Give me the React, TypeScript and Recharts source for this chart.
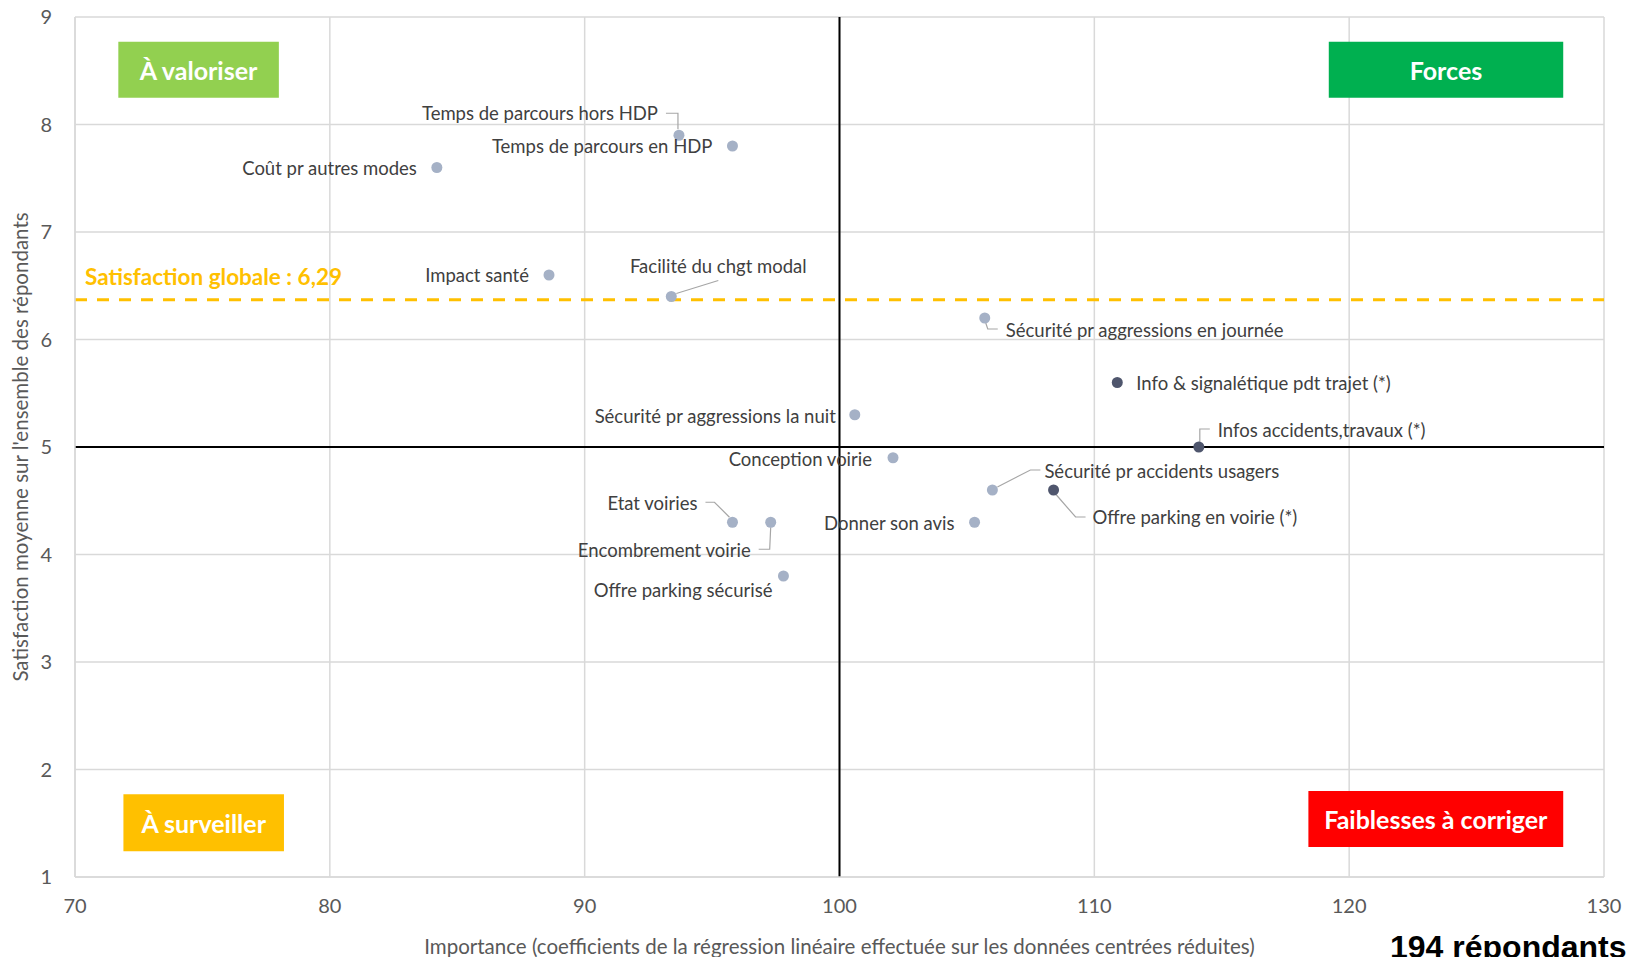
import {
  CartesianGrid,
  ReferenceArea,
  ReferenceLine,
  Scatter,
  ScatterChart,
  XAxis,
  YAxis,
} from "recharts";

const criteria = [
  "Temps de parcours hors HDP",
  "Temps de parcours en HDP",
  "Coût pr autres modes",
  "Impact santé",
  "Facilité du chgt modal",
  "Sécurité pr aggressions en journée",
  "Info & signalétique pdt trajet (*)",
  "Sécurité pr aggressions la nuit",
  "Infos accidents,travaux (*)",
  "Conception voirie",
  "Sécurité pr accidents usagers",
  "Offre parking en voirie (*)",
  "Etat voiries",
  "Encombrement voirie",
  "Donner son avis",
  "Offre parking sécurisé",
];
const importance = [93.7, 95.8, 84.2, 88.6, 93.4, 105.7, 110.9, 100.6, 114.1, 102.1, 106.0, 108.4, 95.8, 97.3, 105.3, 97.8];
const satisfaction = [7.9, 7.8, 7.6, 6.6, 6.4, 6.2, 5.6, 5.3, 5.0, 4.9, 4.6, 4.6, 4.3, 4.3, 4.3, 3.8];
const starred = [false, false, false, false, false, false, true, false, true, false, false, true, false, false, false, false];

const xTicks = [70, 80, 90, 100, 110, 120, 130];
const yTicks = [1, 2, 3, 4, 5, 6, 7, 8, 9];
const globalLine = 6.37;
const globalLabel = "Satisfaction globale : 6,29";
const xLabel = "Importance (coefficients de la régression linéaire effectuée sur les données centrées réduites)";
const yLabel = "Satisfaction moyenne sur l'ensemble des répondants";
const quadrantNames = ["À valoriser", "Forces", "À surveiller", "Faiblesses à corriger"];

// box placement, in axis units
const quadrantBoxes = [
  { x1: 71.7, x2: 78.0, y1: 8.25, y2: 8.77, fill: "#92D050" },
  { x1: 119.2, x2: 128.4, y1: 8.25, y2: 8.77, fill: "#00B050" },
  { x1: 71.9, x2: 78.2, y1: 1.24, y2: 1.77, fill: "#FFC000" },
  { x1: 118.4, x2: 128.4, y1: 1.28, y2: 1.8, fill: "#FF0000" },
];

// label offsets from the point (px), with optional leader line
type Lay = { dx: number; dy: number; anchor: "start" | "middle" | "end"; leader?: number[][] };
const labelLayout: Record<string, Lay> = {
  "Temps de parcours hors HDP": { dx: -21, dy: -22, anchor: "end", leader: [[-13, -22], [-1, -22], [-1, -6]] },
  "Temps de parcours en HDP": { dx: -20, dy: 0, anchor: "end" },
  "Coût pr autres modes": { dx: -20, dy: 0, anchor: "end" },
  "Impact santé": { dx: -20, dy: 0, anchor: "end" },
  "Facilité du chgt modal": { dx: 47, dy: -31, anchor: "middle", leader: [[5, -3], [47, -16]] },
  "Sécurité pr aggressions en journée": { dx: 21, dy: 12, anchor: "start", leader: [[1, 5], [3, 11], [13, 11]] },
  "Info & signalétique pdt trajet (*)": { dx: 19, dy: 0, anchor: "start" },
  "Sécurité pr aggressions la nuit": { dx: -19, dy: 1, anchor: "end" },
  "Infos accidents,travaux (*)": { dx: 19, dy: -17, anchor: "start", leader: [[1, -5], [1, -18], [11, -18]] },
  "Conception voirie": { dx: -21, dy: 1, anchor: "end" },
  "Sécurité pr accidents usagers": { dx: 52, dy: -19, anchor: "start", leader: [[5, -3], [38, -20], [48, -20]] },
  "Offre parking en voirie (*)": { dx: 39, dy: 27, anchor: "start", leader: [[2, 4], [22, 27], [32, 27]] },
  "Etat voiries": { dx: -35, dy: -19, anchor: "end", leader: [[-27, -20], [-18, -20], [-3, -5]] },
  "Encombrement voirie": { dx: -20, dy: 28, anchor: "end", leader: [[0, 5], [-1, 27], [-12, 27]] },
  "Donner son avis": { dx: -20, dy: 1, anchor: "end" },
  "Offre parking sécurisé": { dx: -11, dy: 14, anchor: "end" },
};

const points = criteria.map((name, i) => ({ name, x: importance[i], y: satisfaction[i], starred: starred[i] }));
const FONT = "Lato, 'Open Sans', sans-serif";

function PointShape(props: any) {
  const { cx, cy, payload, fill } = props;
  const lay = labelLayout[payload.name] || { dx: 10, dy: 0, anchor: "start" };
  return (
    <g>
      {lay.leader && (
        <polyline
          points={lay.leader.map(([a, b]) => `${cx + a},${cy + b}`).join(" ")}
          fill="none"
          stroke="#A6A6A6"
          strokeWidth={1.2}
        />
      )}
      <circle cx={cx} cy={cy} r={5.5} fill={fill} />
      <text
        x={cx + lay.dx}
        y={cy + lay.dy}
        textAnchor={lay.anchor}
        dominantBaseline="central"
        fontFamily={FONT}
        fontSize={18.5}
        fill="#404040"
      >
        {payload.name}
      </text>
    </g>
  );
}

function BoxLabel(text: string) {
  return (p: any) => {
    const vb = p.viewBox;
    return (
      <text
        x={vb.x + vb.width / 2}
        y={vb.y + vb.height / 2}
        textAnchor="middle"
        dominantBaseline="central"
        fontFamily={FONT}
        fontWeight="bold"
        fontSize={25}
        fill="#fff"
      >
        {text}
      </text>
    );
  };
}

export default function App() {
  return (
    <div style={{ position: "absolute", left: 0, top: 0, width: 1632, height: 957, overflow: "hidden", background: "#fff" }}>
      <ScatterChart width={1632} height={957} margin={{ top: 17, right: 28, bottom: 0, left: 0 }}>
        <CartesianGrid stroke="#D9D9D9" strokeWidth={1.5} />
        <XAxis
          type="number"
          dataKey="x"
          domain={[70, 130]}
          ticks={xTicks}
          height={80}
          tickLine={false}
          axisLine={{ stroke: "#D9D9D9", strokeWidth: 1.5 }}
          tickSize={6}
          tickMargin={16}
          tick={{ fontSize: 20, fill: "#595959", fontFamily: FONT }}
          label={{ value: xLabel, position: "insideBottom", offset: 3, fontSize: 20.5, fill: "#595959", fontFamily: FONT }}
        />
        <YAxis
          type="number"
          dataKey="y"
          domain={[1, 9]}
          ticks={yTicks}
          width={75}
          tickLine={false}
          axisLine={{ stroke: "#D9D9D9", strokeWidth: 1.5 }}
          tickSize={6}
          tickMargin={17}
          tick={{ fontSize: 20, fill: "#595959", fontFamily: FONT }}
          label={{
            value: yLabel,
            angle: -90,
            position: "insideLeft",
            offset: 21,
            textAnchor: "middle",
            fontSize: 20.5,
            fill: "#595959",
            fontFamily: FONT,
          }}
        />
        {quadrantBoxes.map((b, i) => (
          <ReferenceArea
            key={i}
            x1={b.x1}
            x2={b.x2}
            y1={b.y1}
            y2={b.y2}
            fill={b.fill}
            fillOpacity={1}
            stroke="none"
            label={BoxLabel(quadrantNames[i])}
          />
        ))}
        <ReferenceLine
          y={globalLine}
          stroke="#FFC000"
          strokeWidth={3}
          strokeDasharray="12 10"
          label={(p: any) => (
            <text
              x={p.viewBox.x + 10}
              y={p.viewBox.y - 23}
              dominantBaseline="central"
              fontFamily={FONT}
              fontWeight="bold"
              fontSize={22.5}
              fill="#FFC000"
            >
              {globalLabel}
            </text>
          )}
        />
        <Scatter
          data={points.filter((d) => !d.starred)}
          fill="#A5B1C6"
          shape={PointShape}
          isAnimationActive={false}
        />
        <Scatter
          data={points.filter((d) => d.starred)}
          fill="#4F566D"
          shape={PointShape}
          isAnimationActive={false}
        />
        <ReferenceLine x={100} stroke="#000" strokeWidth={2} />
        <ReferenceLine y={5} stroke="#000" strokeWidth={2} />
      </ScatterChart>
      <div
        style={{
          position: "absolute",
          left: 1390,
          top: 931,
          fontFamily: "'Liberation Sans', Arial, sans-serif",
          fontWeight: "bold",
          fontSize: 32,
          lineHeight: "32px",
          color: "#000",
          whiteSpace: "nowrap",
        }}
      >
        194 répondants
      </div>
    </div>
  );
}
